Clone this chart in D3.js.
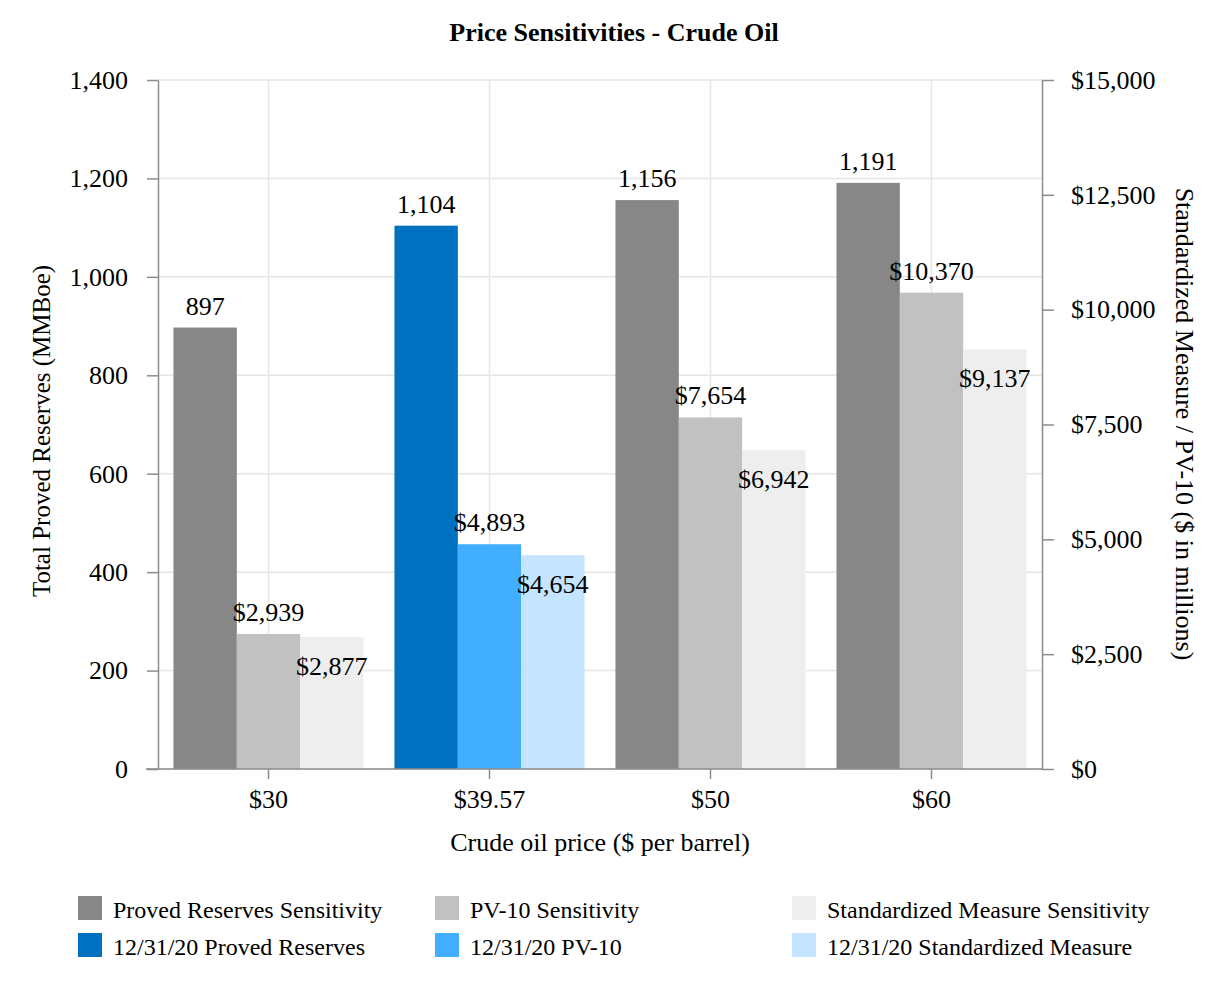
<!DOCTYPE html>
<html><head><meta charset="utf-8">
<script src="https://cdn.jsdelivr.net/npm/d3@7"></script>
<style>body{margin:0;background:#fff;} text{font-family:"Liberation Serif","Times New Roman",serif;fill:#000;}</style>
</head><body>
<svg id="c" width="1226" height="992"></svg>
<script>
const categories = ["$30", "$39.57", "$50", "$60"];
const currentCategory = "$39.57";
const provedReserves = [897, 1104, 1156, 1191];      // MMBoe, left axis
const pv10 = [2939, 4893, 7654, 10370];              // $ millions, right axis
const standardizedMeasure = [2877, 4654, 6942, 9137]; // $ millions, right axis
const leftTicks = [0, 200, 400, 600, 800, 1000, 1200, 1400];
const rightTicks = [0, 2500, 5000, 7500, 10000, 12500, 15000];
const legendNames = [
  "Proved Reserves Sensitivity", "PV-10 Sensitivity", "Standardized Measure Sensitivity",
  "12/31/20 Proved Reserves", "12/31/20 PV-10", "12/31/20 Standardized Measure"
];
const sensColors = ["#878787", "#c1c1c1", "#eeeeee"];
const currColors = ["#0070c0", "#41aeff", "#c4e4ff"];

const svg = d3.select("#c");
const L = 158, R = 1042, T = 80, B = 769;

const x = d3.scaleBand().domain(categories).range([L, R]).paddingInner(0.14).paddingOuter(0.07);
const xs = d3.scaleBand().domain([0, 1, 2]).range([0, x.bandwidth()]);
const yL = d3.scaleLinear().domain([0, 1400]).range([B, T]);
const yR = d3.scaleLinear().domain([0, 15000]).range([B, T]);

// gridlines
svg.append("g").selectAll("line").data(leftTicks).join("line")
  .attr("x1", L).attr("x2", R).attr("y1", d => yL(d)).attr("y2", d => yL(d))
  .attr("stroke", "#e6e6e6").attr("stroke-width", 1.5);
svg.append("g").selectAll("line").data(categories).join("line")
  .attr("x1", d => x(d) + x.bandwidth() / 2).attr("x2", d => x(d) + x.bandwidth() / 2)
  .attr("y1", T).attr("y2", B)
  .attr("stroke", "#e6e6e6").attr("stroke-width", 1.5);

// bars
const rows = [];
categories.forEach((c, i) => {
  const cur = c === currentCategory;
  const cols = cur ? currColors : sensColors;
  rows.push({c, k: 0, v: provedReserves[i], y: yL, color: cols[0], label: d3.format(",")(provedReserves[i]), pos: "above"});
  rows.push({c, k: 1, v: pv10[i], y: yR, color: cols[1], label: "$" + d3.format(",")(pv10[i]), pos: "above"});
  rows.push({c, k: 2, v: standardizedMeasure[i], y: yR, color: cols[2], label: "$" + d3.format(",")(standardizedMeasure[i]), pos: "below"});
});
svg.append("g").selectAll("rect").data(rows).join("rect")
  .attr("x", d => x(d.c) + xs(d.k)).attr("width", xs.bandwidth())
  .attr("y", d => d.y(d.v)).attr("height", d => B - d.y(d.v))
  .attr("fill", d => d.color);
svg.append("g").selectAll("text").data(rows).join("text")
  .attr("x", d => x(d.c) + xs(d.k) + xs.bandwidth() / 2)
  .attr("y", d => d.pos === "above" ? d.y(d.v) - 13 : d.y(d.v) + 38)
  .attr("text-anchor", "middle").attr("font-size", 26)
  .text(d => d.label);

// axes
const axisColor = "#8c8c8c";
function styleAxis(g) {
  g.selectAll("path,line").attr("stroke", axisColor).attr("stroke-width", 1.5);
  g.selectAll("text").attr("font-size", 26).attr("font-family", "Liberation Serif, serif").attr("fill", "#000");
}
svg.append("g").attr("transform", `translate(${L},0)`)
  .call(d3.axisLeft(yL).tickValues(leftTicks).tickFormat(d3.format(",")).tickSize(11).tickSizeOuter(0).tickPadding(19))
  .call(styleAxis);
svg.append("g").attr("transform", `translate(${R},0)`)
  .call(d3.axisRight(yR).tickValues(rightTicks).tickFormat(d => "$" + d3.format(",")(d)).tickSize(12).tickSizeOuter(0).tickPadding(17))
  .call(styleAxis);
const xa = svg.append("g").attr("transform", `translate(0,${B})`)
  .call(d3.axisBottom(x).tickSize(10).tickSizeOuter(0).tickPadding(11))
  .call(styleAxis);
xa.select("path.domain").attr("d", `M${L - 12},0H${R}`);

// titles
svg.append("text").attr("x", 614).attr("y", 41).attr("text-anchor", "middle")
  .attr("font-size", 26).attr("font-weight", "bold").text("Price Sensitivities - Crude Oil");
svg.append("text").attr("x", 600).attr("y", 851).attr("text-anchor", "middle")
  .attr("font-size", 26).text("Crude oil price ($ per barrel)");
svg.append("text").attr("transform", "translate(50,431) rotate(-90)").attr("text-anchor", "middle")
  .attr("font-size", 25).text("Total Proved Reserves (MMBoe)");
svg.append("text").attr("transform", "translate(1176,424) rotate(90)").attr("text-anchor", "middle")
  .attr("font-size", 26).text("Standardized Measure / PV-10 ($ in millions)");

// legend
const legendColors = sensColors.concat(currColors);
const colX = [78, 435, 792];
const rowY = [896, 933];
const lg = svg.append("g").selectAll("g").data(legendNames).join("g")
  .attr("transform", (d, i) => `translate(${colX[i % 3]},${rowY[Math.floor(i / 3)]})`);
lg.append("rect").attr("width", 24).attr("height", 24).attr("fill", (d, i) => legendColors[i]);
lg.append("text").attr("x", 35).attr("y", 22).attr("font-size", 24).text(d => d);
</script>
</body></html>
